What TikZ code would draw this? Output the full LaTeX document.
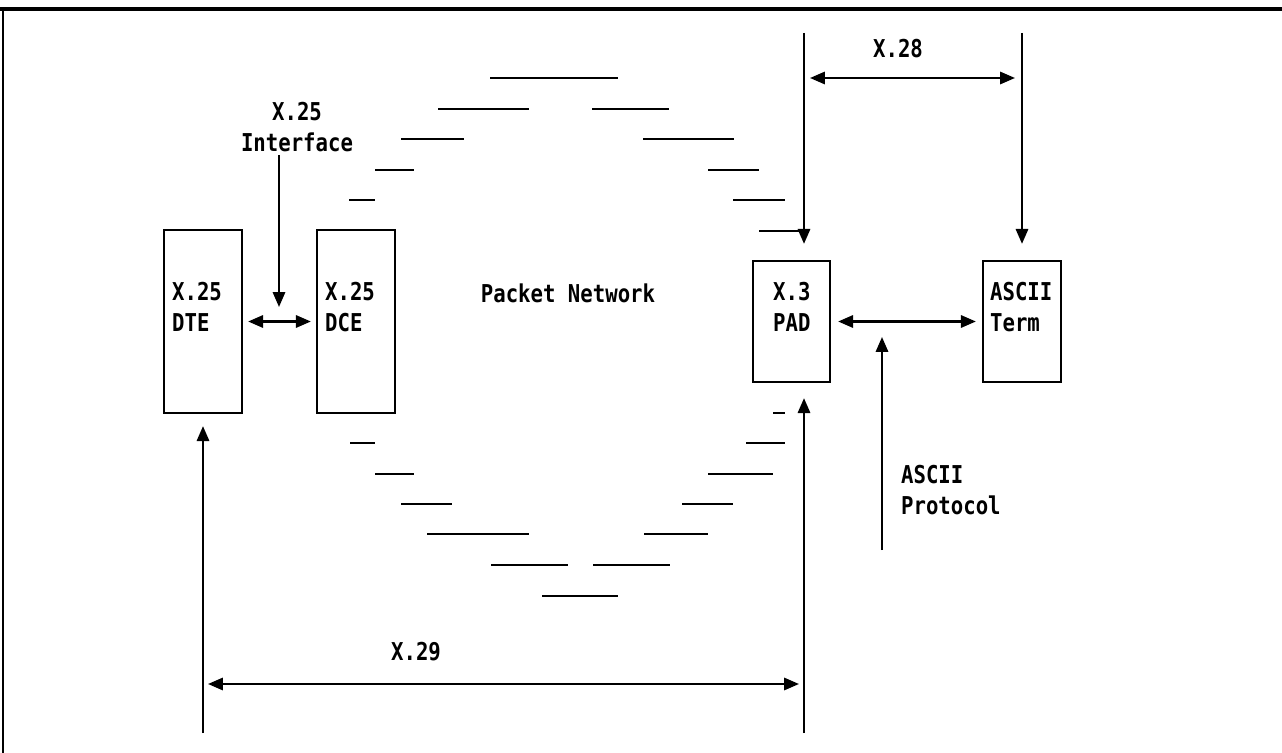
\documentclass[tikz,border=0pt]{standalone}
\usepackage{fontspec}
\newfontfamily\lblfont[FakeStretch=0.84]{DejaVu Sans Mono}
\usetikzlibrary{arrows.meta}
\begin{document}
\begin{tikzpicture}[x=0.02cm,y=-0.02cm, line width=1.3pt,
  box/.style={draw, line width=1.3pt, inner sep=0pt},
  lbl/.style={font=\lblfont\bfseries\fontsize{14}{17.6}\selectfont, inner sep=0pt, align=left},
  tip/.style={-{Triangle[length=8.5pt,width=7pt]}},
  dbl/.style={{Triangle[length=8.5pt,width=7pt]}-{Triangle[length=8.5pt,width=7pt]}},
  ring/.style={line width=1.3pt}]
\useasboundingbox (0,0) rectangle (1282,753);
% frame
\draw[line width=1.8pt] (0,9) -- (1282,9);
\draw[line width=1pt] (3,9) -- (3,753);
% boxes
\node[box, minimum width=1.56cm, minimum height=3.66cm] (dte) at (203,321.5) {};
\node[box, minimum width=1.56cm, minimum height=3.66cm] (dce) at (356,321.5) {};
\node[box, minimum width=1.54cm, minimum height=2.42cm] (pad) at (791.5,321.5) {};
\node[box, minimum width=1.56cm, minimum height=2.42cm] (term) at (1022,321.5) {};
% labels
\node[lbl, anchor=west] (dtet) at (171,307) {X.25\\DTE};
\node[lbl, anchor=west] (dcet) at (324,307) {X.25\\DCE};
\node[lbl, anchor=west] (padt) at (772,307) {X.3\\PAD};
\node[lbl, anchor=west] (termt) at (989,307) {ASCII\\Term};
\node[lbl, align=center] (ift) at (297,127) {X.25\\Interface};
\node[lbl, anchor=west] (apt) at (900,490) {ASCII\\Protocol};
\node[lbl] (pn) at (568,293) {Packet Network};
\node[lbl] (x28) at (898,49) {X.28};
\node[lbl] (x29) at (416,652) {X.29};
% packet network ring
\foreach \yy/\aa/\bb in {78/490/618, 109/438/529, 109/592/669, 139/401/464, 139/643/734,
  170/375/414, 170/708/759, 200/349/375, 200/733/785, 231/759/803,
  413/773/785, 443/350/375, 443/746/785, 474/375/414, 474/708/773,
  504/401/452, 504/682/733, 534/427/529, 534/644/708, 565/491/568, 565/593/670, 596/542/618}
  \draw[ring] (\aa,\yy) -- (\bb,\yy);
% coordinates for free ends
\coordinate (x28a) at (804,33);
\coordinate (x28b) at (1022,33);
\coordinate (x28l) at (804,78);
\coordinate (x28r) at (1022,78);
\coordinate (ifa) at (279,155);
\coordinate (apa) at (882,550);
\coordinate (x29a) at (203,733);
\coordinate (x29b) at (804,733);
\coordinate (x29l) at (203,684);
\coordinate (x29r) at (804,684);
% connectors
\draw[tip, shorten >=0.32cm] (x28a) -- (x28a |- pad.north);
\draw[tip, shorten >=0.32cm] (x28b) -- (term.north);
\draw[dbl, shorten <=0.12cm, shorten >=0.14cm] (x28l) -- (x28r);
\draw[dbl, shorten <=0.1cm, shorten >=0.1cm] (dte.east) -- (dce.west);
\draw[tip, shorten >=0.29cm] (ifa) -- (ifa |- dte.east);
\draw[dbl, shorten <=0.14cm, shorten >=0.12cm] (pad.east) -- (term.west);
\draw[tip, shorten >=0.31cm] (apa) -- (apa |- pad.east);
\draw[tip, shorten >=0.24cm] (x29a) -- (dte.south);
\draw[tip, shorten >=0.3cm] (x29b) -- (x29b |- pad.south);
\draw[dbl, shorten <=0.1cm, shorten >=0.1cm] (x29l) -- (x29r);
\end{tikzpicture}
\end{document}
